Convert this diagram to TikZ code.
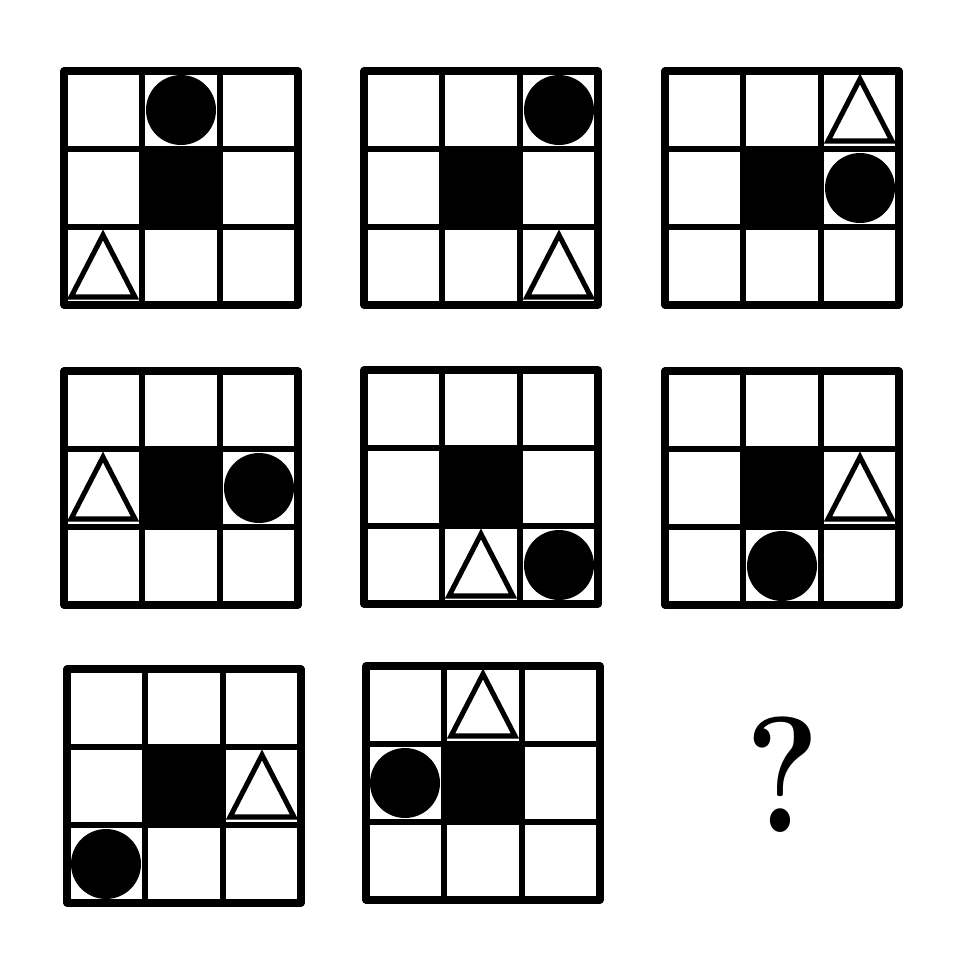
\documentclass[tikz,border=0pt]{standalone}
\begin{document}
\begin{tikzpicture}[x=0.03cm, y=-0.03cm,
        frame/.style={line width=6pt, line join=round},
        inner/.style={line width=4.3pt},
        tri/.style={line width=4.3pt, line join=miter, fill=white}]
    \useasboundingbox (0,0) rectangle (971,971);
    % x/y of panel, circle cell (col/row), triangle cell (col/row)
    \foreach \px/\py/\cc/\cr/\tc/\tr in {64/71/2/1/1/3, 364/71/3/1/3/3, 665/71/3/2/3/1,
            64/371/3/2/1/2, 364/370/3/3/2/3, 665/371/2/3/3/2,
            67/669/1/3/3/2, 366/666/1/2/2/1} {
        \begin{scope}[shift={(\px,\py)}]
            \fill (78,78) rectangle (156,156);
            \foreach \k in {78,156} {
                \draw[inner] (\k,0) -- (\k,234);
                \draw[inner] (0,\k) -- (234,\k);
            }
            \draw[frame] (0,0) rectangle (234,234);
            \fill ({78*\cc-39},{78*\cr-39}) circle (35);
            \draw[tri] ({78*\tc-71},{78*\tr-8}) -- ({78*\tc-39},{78*\tr-70})
                -- ({78*\tc-7},{78*\tr-8}) -- cycle;
        \end{scope}
    }
    \node[font=\fontsize{141}{141}\selectfont\bfseries, inner sep=0, anchor=base, xscale=0.85] (qm) at (783,832) {?};
\end{tikzpicture}
\end{document}
